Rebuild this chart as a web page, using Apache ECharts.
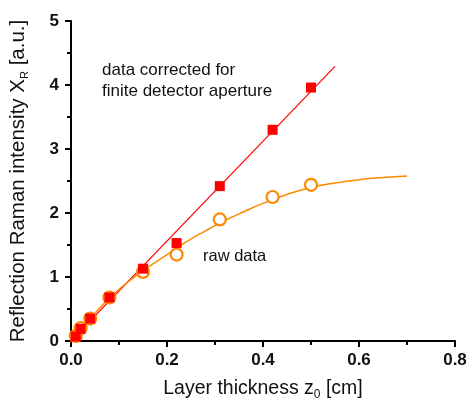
<!DOCTYPE html>
<html><head><meta charset="utf-8">
<script src="https://cdn.jsdelivr.net/npm/echarts@6/dist/echarts.min.js"></script>
<style>html,body{margin:0;padding:0;background:#fff}#c{width:468px;height:404px}</style>
</head><body><div id="c"></div>
<script>
// Data
const thickness = [0.01, 0.02, 0.04, 0.08, 0.15, 0.22, 0.31, 0.42, 0.50];
const corrected = [0.07, 0.19, 0.35, 0.68, 1.13, 1.53, 2.42, 3.30, 3.96];
const raw = [0.08, 0.20, 0.35, 0.68, 1.08, 1.35, 1.90, 2.25, 2.44];
const fitLineX = [-0.04, 0.55];
const fitLineY = [-0.31, 4.29];
const rawCurveX = [0, 0.04, 0.08, 0.12, 0.16, 0.20, 0.24, 0.28, 0.32, 0.36, 0.40, 0.45, 0.50, 0.55, 0.60, 0.65, 0.70];
const rawCurveY = [0, 0.35, 0.67, 0.93, 1.15, 1.35, 1.55, 1.72, 1.88, 2.02, 2.15, 2.29, 2.40, 2.47, 2.52, 2.555, 2.58];
const xTicks = [0, 0.2, 0.4, 0.6, 0.8];
const yTicks = [0, 1, 2, 3, 4, 5];

const zip = (a, b) => a.map((v, i) => [v, b[i]]);
const FONT = 'Liberation Sans, Arial, sans-serif';
const chart = echarts.init(document.getElementById('c'), null, {renderer: 'canvas'});
chart.setOption({
  animation: false,
  grid: {left: 71, right: 13, top: 21, bottom: 63, containLabel: false, outerBoundsMode: 'none'},
  xAxis: {
    type: 'value', min: xTicks[0], max: xTicks[xTicks.length - 1], interval: 0.2,
    axisLine: {onZero: false, lineStyle: {color: '#000', width: 2}},
    axisTick: {inside: false, length: 6, lineStyle: {color: '#000', width: 2}},
    minorTick: {show: true, splitNumber: 2, length: 4, lineStyle: {color: '#000', width: 2}},
    splitLine: {show: false},
    axisLabel: {color: '#111', fontSize: 17, fontWeight: 'bold', fontFamily: FONT, margin: 11,
      formatter: v => v.toFixed(1)},
    name: '{n|Layer thickness z}{s|0}{n| [cm]}',
    nameLocation: 'middle', nameGap: 36,
    nameTextStyle: {rich: {
      n: {fontSize: 19.5, fontFamily: FONT, color: '#111'},
      s: {fontSize: 12, fontFamily: FONT, color: '#111', verticalAlign: 'bottom', padding: [12, 0, 0, 0]}
    }}
  },
  yAxis: {
    type: 'value', min: yTicks[0], max: yTicks[yTicks.length - 1], interval: 1,
    axisLine: {onZero: false, lineStyle: {color: '#000', width: 2}},
    axisTick: {inside: false, length: 6, lineStyle: {color: '#000', width: 2}},
    minorTick: {show: true, splitNumber: 2, length: 4, lineStyle: {color: '#000', width: 2}},
    splitLine: {show: false},
    axisLabel: {color: '#111', fontSize: 17, fontWeight: 'bold', fontFamily: FONT, margin: 12},
    name: '{n|Reflection Raman intensity X}{s|R}{n| [a.u.]}',
    nameLocation: 'middle', nameGap: 41, nameRotate: 90,
    nameTextStyle: {rich: {
      n: {fontSize: 20.5, fontFamily: FONT, color: '#111'},
      s: {fontSize: 11, fontFamily: FONT, color: '#111', verticalAlign: 'bottom', padding: [12, 0, 0, 0]}
    }}
  },
  series: [
    {type: 'line', data: zip(fitLineX, fitLineY), showSymbol: false, symbol: 'none', clip: false,
      lineStyle: {color: '#ff0000', width: 1.2}, z: 2},
    {type: 'line', data: zip(rawCurveX, rawCurveY), smooth: true, showSymbol: false, symbol: 'none',
      lineStyle: {color: '#ff8800', width: 1.5}, z: 2},
    {type: 'scatter', data: zip(thickness, raw), symbol: 'circle', symbolSize: 12, clip: false,
      itemStyle: {color: '#fff', borderColor: '#ff8800', borderWidth: 2.2, opacity: 1}, z: 3},
    {type: 'scatter', data: zip(thickness, corrected), symbol: 'rect', symbolSize: 10, clip: false,
      itemStyle: {color: '#ff0000', opacity: 1}, z: 4}
  ],
  graphic: [
    {type: 'text', left: 102, top: 60, style: {text: 'data corrected for\nfinite detector aperture',
      font: '17px ' + FONT, fill: '#111', lineHeight: 21}},
    {type: 'text', left: 203, top: 248, style: {text: 'raw data', font: '16.5px ' + FONT, fill: '#111'}}
  ]
});
</script></body></html>
